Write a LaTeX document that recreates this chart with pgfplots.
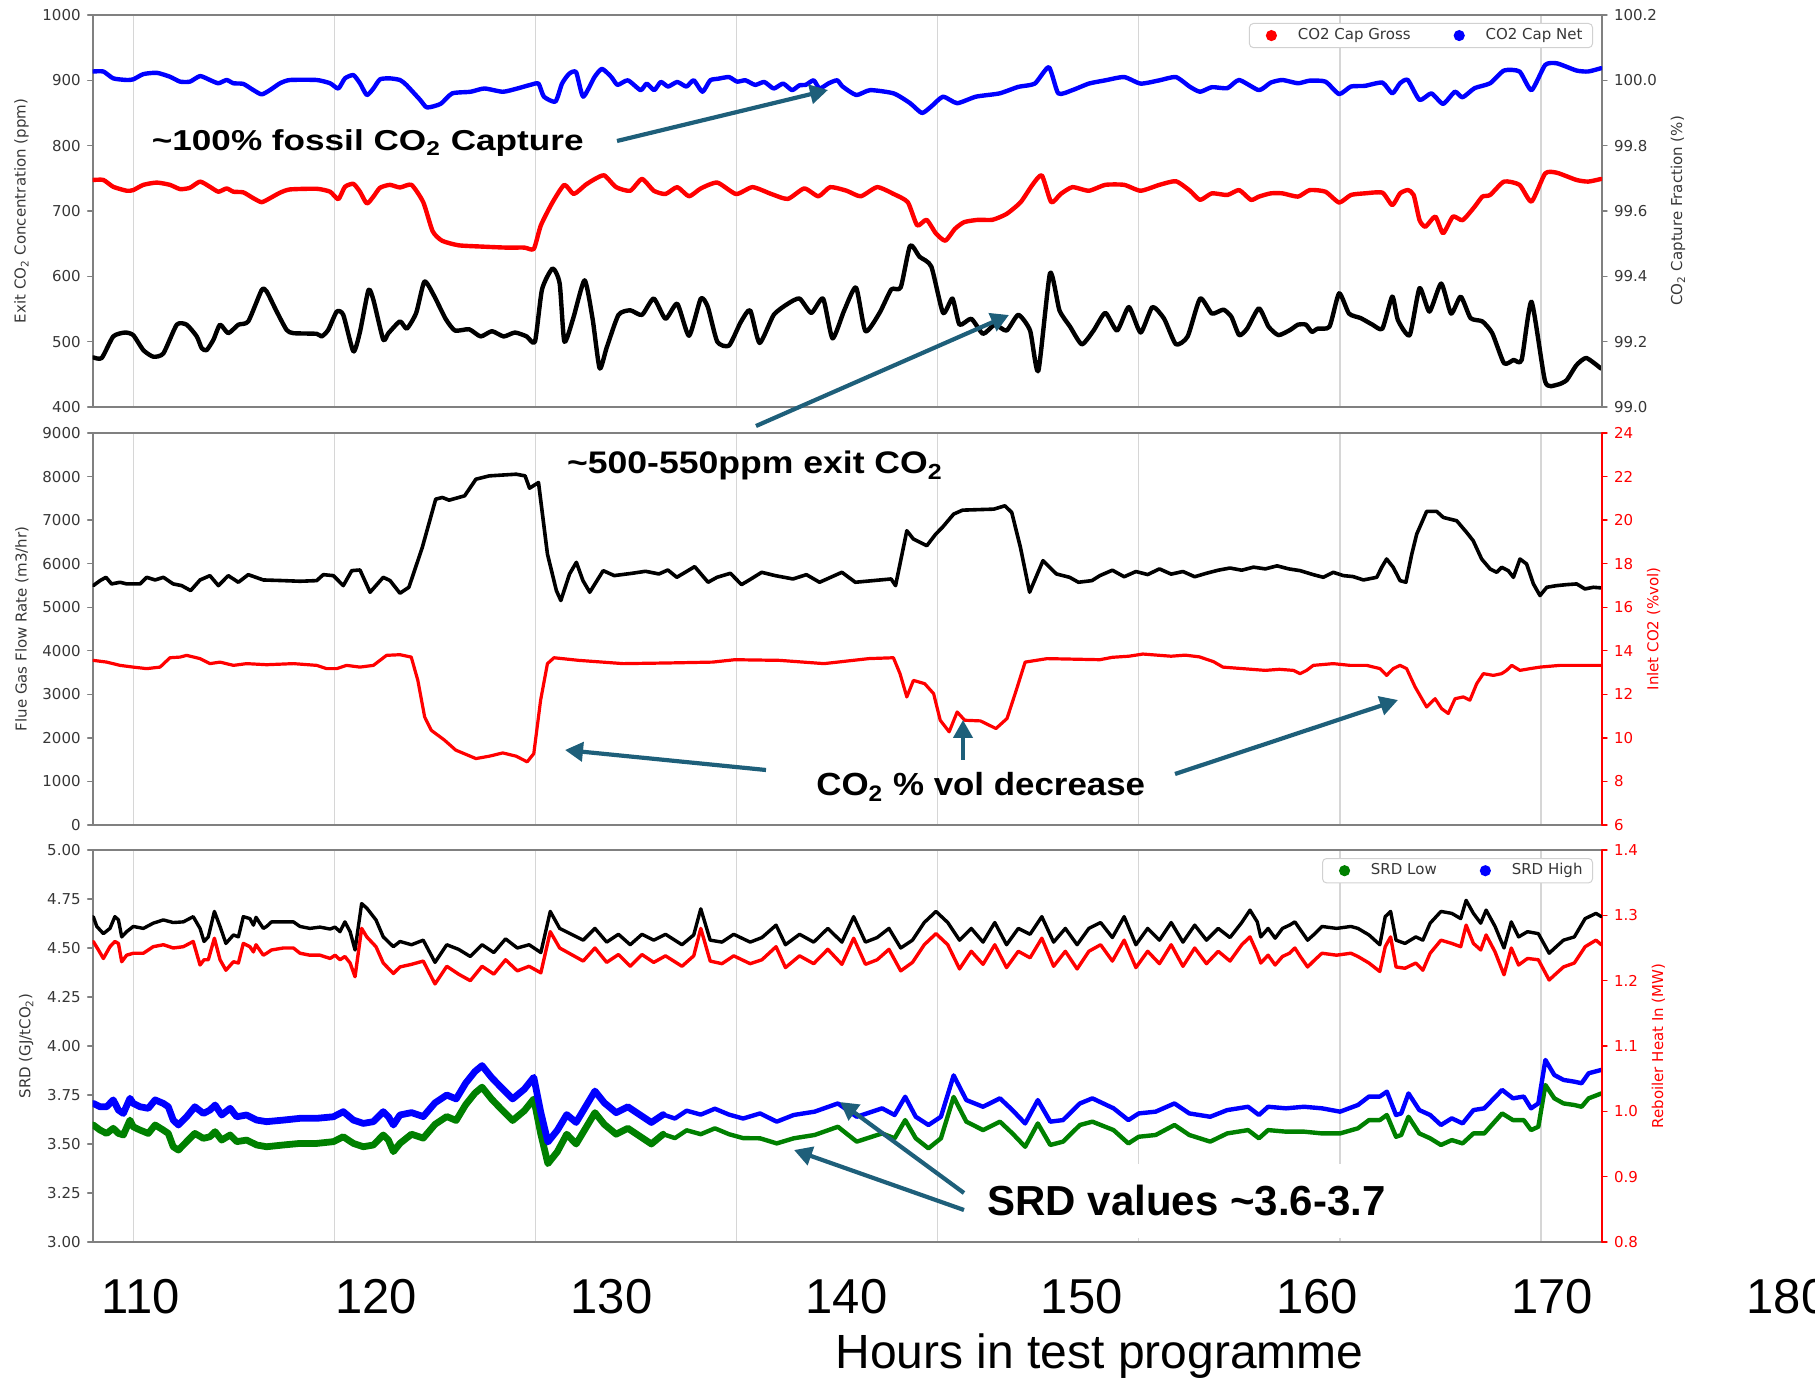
\documentclass[border=0pt]{standalone}
\usepackage{fontspec}
\setmainfont{DejaVu Sans}
\newfontfamily\lib{Liberation Sans}
\usepackage{graphicx}
\usepackage{pgfplots}
\pgfplotsset{compat=1.18}
\usetikzlibrary{arrows.meta}
\definecolor{axgray}{RGB}{128,128,128}
\definecolor{gridgray}{RGB}{214,214,214}
\definecolor{tlab}{RGB}{55,55,55}
\definecolor{mplgreen}{RGB}{0,128,0}
\definecolor{arrowc}{RGB}{30,95,122}
\newcommand{\fs}{\fontsize{7.5}{9}\selectfont}
\pgfplotsset{
 panel/.style={scale only axis, width=754.65pt, height=196pt,
   xmin=107.946, xmax=172.117, anchor=south west,
   xtick={109.673,118.223,126.773,135.323,143.873,152.423,160.973,169.523},
   xticklabels={}, xmajorticks=false,
   tick align=outside, major tick length=2.5pt,
   axis line style={axgray, line width=0.9pt},
   tick style={axgray, line width=0.7pt},
   ticklabel style={font=\fs, text=tlab},
   every axis label/.append style={font=\fs, text=tlab},
   /pgf/number format/assume math mode=true,
   /pgf/number format/1000 sep={},
   line join=round, line cap=round},
 leftax/.style={panel, xmajorgrids, major x grid style={gridgray, line width=0.6pt}, ytick pos=left},
 rightax/.style={panel, axis x line=none, axis y line*=right, ytick pos=right, y axis line style={-}},
 redright/.style={y axis line style={red, line width=0.9pt}, ytick style={red, line width=0.7pt},
   yticklabel style={text=red}, ylabel style={text=red}},
 mylegend/.style={legend columns=2,
   legend style={at={(1,1)}, anchor=north east, xshift=-4.5pt, yshift=-4pt,
     draw=black!18, line width=0.5pt, rounded corners=2pt, fill=white,
     font=\fs, text=tlab, inner xsep=3pt, inner ysep=0.5pt,
     /tikz/every odd column/.append style={column sep=8.2pt},
     /tikz/every even column/.append style={column sep=14.3pt}},
   legend image code/.code={\path[draw=none,fill=none] (0pt,-2pt) rectangle (11pt,2pt); \path[draw=none,fill=##1] (8pt,0pt) circle (2.8pt);}},
}
\begin{document}
\begin{tikzpicture}
% ================= PANEL 1 =================
\begin{axis}[leftax, at={(46.35pt,485.5pt)}, ymin=400, ymax=1000, ytick={400,500,...,1000},
  ylabel={Exit CO\textsubscript{2} Concentration (ppm)}]
\addplot[black, line width=2.2pt, smooth, tension=0.35] coordinates {(107.97,476)(108.33,475)(108.82,508)(109.32,514)(109.67,510)(110.10,487)(110.52,477)(110.95,482)(111.52,526)(111.94,526)(112.37,508)(112.58,490)(112.79,487)(113.08,503)(113.36,526)(113.71,513)(114.14,526)(114.56,531)(115.13,579)(115.34,577)(115.77,546)(116.19,518)(116.48,513)(117.47,512)(117.68,508)(117.96,518)(118.32,546)(118.60,541)(119.03,485)(119.31,515)(119.67,579)(119.88,564)(120.30,503)(120.52,513)(121.01,531)(121.3,520)(121.7,544)(122.05,592)(122.45,571)(122.95,535)(123.35,517)(123.95,519)(124.44,508)(124.92,516)(125.42,508)(125.9,514)(126.4,508)(126.75,500)(127.05,580)(127.5,612)(127.8,589)(128.0,500)(128.37,535)(128.86,594)(129.2,535)(129.5,459)(129.8,491)(130.3,541)(130.8,548)(131.3,541)(131.8,566)(132.3,535)(132.8,558)(133.3,509)(133.8,566)(134.1,553)(134.5,500)(135.0,494)(135.5,530)(135.9,548)(136.3,498)(136.9,541)(137.5,558)(138.0,566)(138.5,544)(139.0,566)(139.4,505)(139.9,548)(140.4,583)(140.8,516)(141.4,544)(141.9,580)(142.3,583)(142.7,647)(143.1,630)(143.6,615)(144.1,544)(144.5,566)(144.8,526)(145.3,535)(145.8,512)(146.3,526)(146.8,517)(147.3,541)(147.8,517)(148.15,455)(148.65,605)(149.05,548)(149.5,523)(150.0,496)(150.5,517)(151.0,544)(151.5,517)(152.0,553)(152.5,514)(153.0,553)(153.5,535)(154.0,496)(154.5,508)(155.03,566)(155.53,543)(156.02,549)(156.36,538)(156.69,510)(157.03,520)(157.53,551)(157.94,523)(158.36,510)(158.86,518)(159.19,526)(159.53,526)(159.78,515)(160.03,520)(160.53,523)(160.94,574)(161.36,543)(161.86,536)(162.36,526)(162.78,520)(163.20,569)(163.44,533)(163.94,510)(164.36,582)(164.78,546)(165.28,589)(165.70,543)(166.11,569)(166.53,536)(167.03,531)(167.45,513)(167.95,467)(168.36,472)(168.70,472)(169.12,561)(169.70,439)(170.20,434)(170.61,441)(171.03,464)(171.45,475)(172.07,459)};
\end{axis}
\begin{axis}[rightax, mylegend, at={(46.35pt,485.5pt)}, ymin=99.0, ymax=100.2, ytick={99.0,99.2,...,100.2},
  yticklabel style={/pgf/number format/.cd, fixed, fixed zerofill, precision=1},
  ylabel={CO\textsubscript{2} Capture Fraction (\%)}]
\addplot[red, line width=2.2pt, smooth, tension=0.35, forget plot] coordinates {(107.97,99.695)(108.40,99.695)(108.82,99.674)(109.39,99.662)(109.67,99.664)(110.10,99.680)(110.67,99.687)(111.23,99.680)(111.66,99.667)(112.08,99.671)(112.51,99.690)(112.93,99.674)(113.29,99.659)(113.64,99.669)(113.93,99.659)(114.35,99.657)(114.78,99.639)(115.13,99.627)(115.48,99.639)(115.91,99.656)(116.33,99.666)(117.47,99.668)(118.04,99.659)(118.39,99.636)(118.67,99.674)(119.03,99.683)(119.31,99.659)(119.60,99.623)(119.88,99.644)(120.16,99.671)(120.58,99.680)(121.01,99.672)(121.5,99.680)(122.0,99.627)(122.4,99.538)(122.8,99.509)(123.5,99.495)(124.5,99.491)(125.5,99.488)(126.3,99.488)(126.7,99.484)(127.0,99.556)(127.5,99.627)(128.0,99.680)(128.4,99.652)(128.9,99.680)(129.3,99.698)(129.7,99.709)(130.2,99.673)(130.8,99.662)(131.3,99.698)(131.8,99.662)(132.3,99.652)(132.8,99.673)(133.3,99.645)(133.8,99.669)(134.5,99.687)(135.3,99.652)(136.0,99.673)(136.8,99.652)(137.5,99.637)(138.2,99.669)(138.8,99.645)(139.3,99.673)(140.0,99.662)(140.6,99.645)(141.3,99.673)(142.0,99.652)(142.6,99.627)(143.0,99.556)(143.4,99.573)(143.8,99.531)(144.2,99.509)(144.6,99.545)(145.0,99.566)(145.6,99.573)(146.2,99.573)(146.8,99.591)(147.4,99.627)(147.9,99.680)(148.3,99.709)(148.7,99.627)(149.1,99.652)(149.6,99.673)(150.3,99.662)(151.0,99.680)(151.8,99.680)(152.5,99.662)(153.3,99.680)(154.0,99.691)(154.6,99.662)(155.03,99.634)(155.53,99.654)(156.19,99.649)(156.69,99.664)(157.19,99.634)(157.53,99.644)(158.03,99.654)(158.53,99.654)(159.19,99.644)(159.69,99.664)(160.36,99.659)(160.94,99.626)(161.44,99.649)(162.03,99.654)(162.78,99.656)(163.20,99.618)(163.53,99.654)(163.86,99.664)(164.11,99.649)(164.36,99.572)(164.61,99.552)(165.03,99.583)(165.36,99.532)(165.78,99.583)(166.19,99.572)(166.70,99.613)(167.03,99.644)(167.36,99.649)(167.95,99.690)(168.61,99.680)(169.12,99.629)(169.70,99.715)(170.20,99.717)(171.03,99.695)(171.53,99.690)(172.07,99.698)};
\addplot[blue, line width=2.2pt, smooth, tension=0.35, forget plot] coordinates {(107.97,100.027)(108.40,100.027)(108.82,100.006)(109.39,100.001)(109.67,100.003)(110.10,100.019)(110.67,100.023)(111.23,100.011)(111.66,99.996)(112.08,99.996)(112.51,100.013)(112.93,100.001)(113.29,99.991)(113.64,100.001)(113.93,99.991)(114.35,99.989)(114.78,99.970)(115.13,99.957)(115.48,99.970)(115.91,99.991)(116.33,100.001)(117.47,100.001)(118.04,99.991)(118.39,99.975)(118.67,100.006)(119.03,100.016)(119.31,99.991)(119.60,99.955)(119.88,99.975)(120.16,100.003)(120.58,100.006)(121.01,100.001)(121.28,99.986)(121.87,99.940)(122.16,99.917)(122.74,99.928)(123.23,99.960)(124.01,99.965)(124.60,99.975)(125.38,99.965)(126.0,99.975)(126.55,99.986)(126.9,99.99)(127.13,99.950)(127.62,99.935)(127.9,99.99)(128.2,100.02)(128.5,100.025)(128.80,99.950)(129.28,100.01)(129.6,100.035)(130.0,100.01)(130.26,99.986)(130.7,100.00)(131.24,99.970)(131.5,99.99)(131.82,99.970)(132.1,99.995)(132.41,99.981)(132.8,99.995)(133.19,99.981)(133.5,100.0)(133.87,99.965)(134.2,100.0)(134.55,100.005)(135.0,100.01)(135.34,99.996)(135.7,100.0)(136.11,99.986)(136.5,99.995)(136.90,99.975)(137.3,99.99)(137.68,99.970)(138.0,99.985)(138.26,99.986)(138.6,100.0)(138.85,99.975)(139.24,99.991)(139.6,100.0)(139.83,99.981)(140.41,99.955)(141.0,99.97)(142.0,99.96)(142.7,99.93)(143.2,99.90)(143.6,99.92)(144.1,99.95)(144.7,99.93)(145.5,99.95)(146.5,99.96)(147.3,99.98)(148.0,99.99)(148.6,100.04)(149.0,99.96)(149.6,99.97)(150.3,99.99)(151.0,100.00)(151.8,100.01)(152.5,99.99)(153.3,100.00)(154.0,100.01)(154.6,99.98)(155.03,99.965)(155.53,99.979)(156.19,99.976)(156.69,100.001)(157.53,99.970)(158.03,99.993)(158.53,100.001)(159.19,99.991)(159.69,99.999)(160.36,99.996)(160.94,99.958)(161.44,99.981)(162.03,99.983)(162.78,99.993)(163.20,99.960)(163.53,99.991)(163.86,100.001)(164.36,99.940)(164.86,99.960)(165.36,99.928)(165.86,99.965)(166.19,99.948)(166.70,99.976)(167.36,99.991)(167.95,100.030)(168.61,100.027)(169.12,99.970)(169.70,100.047)(170.20,100.052)(171.03,100.030)(171.53,100.027)(172.07,100.037)};
\addlegendimage{red}
\addlegendentry{CO2 Cap Gross}
\addlegendimage{blue}
\addlegendentry{CO2 Cap Net}
\end{axis}
% ================= PANEL 2 =================
\begin{axis}[leftax, at={(46.35pt,276.5pt)}, ymin=0, ymax=9000, ytick={0,1000,...,9000},
  ylabel={Flue Gas Flow Rate (m3/hr)}]
\addplot[black, line width=1.8pt] coordinates {(107.97,5496)(108.26,5611)(108.51,5687)(108.75,5535)(109.11,5573)(109.39,5535)(109.96,5535)(110.24,5687)(110.60,5626)(110.95,5687)(111.37,5535)(111.73,5496)(112.11,5382)(112.51,5626)(112.93,5725)(113.29,5496)(113.71,5725)(114.14,5573)(114.56,5748)(115.20,5626)(116.05,5611)(116.76,5596)(117.47,5611)(117.75,5748)(118.18,5725)(118.60,5496)(118.96,5840)(119.31,5855)(119.74,5344)(120.30,5687)(120.59,5611)(121.01,5321)(121.39,5458)(121.96,6374)(122.53,7481)(122.81,7520)(123.10,7458)(123.76,7558)(124.24,7939)(124.81,8016)(125.95,8054)(126.33,8016)(126.52,7733)(126.90,7863)(127.28,6222)(127.66,5382)(127.85,5153)(128.22,5764)(128.51,6031)(128.79,5611)(129.08,5344)(129.65,5840)(130.12,5726)(130.88,5779)(131.45,5825)(132.02,5764)(132.40,5855)(132.78,5687)(133.54,5932)(134.11,5573)(134.49,5687)(135.06,5779)(135.53,5519)(135.82,5611)(136.39,5802)(136.96,5726)(137.72,5649)(138.29,5748)(138.85,5573)(139.80,5802)(140.37,5573)(141.13,5611)(141.89,5649)(142.08,5496)(142.56,6756)(142.84,6565)(143.41,6413)(143.79,6680)(144.07,6832)(144.55,7138)(144.93,7229)(146.26,7252)(146.73,7329)(147.02,7176)(147.39,6374)(147.78,5344)(148.35,6069)(148.92,5764)(149.48,5687)(149.86,5573)(150.43,5611)(150.77,5726)(151.3,5850)(151.8,5700)(152.3,5820)(152.8,5750)(153.3,5880)(153.8,5760)(154.3,5820)(154.8,5700)(155.3,5780)(155.8,5850)(156.3,5900)(156.8,5850)(157.3,5920)(157.8,5880)(158.3,5950)(158.8,5880)(159.28,5840)(159.84,5748)(160.27,5687)(160.69,5802)(161.12,5726)(161.54,5703)(161.97,5626)(162.54,5687)(162.75,5916)(162.96,6107)(163.24,5916)(163.53,5611)(163.78,5573)(164.03,6222)(164.24,6680)(164.66,7199)(165.09,7199)(165.37,7061)(165.94,6985)(166.36,6718)(166.64,6527)(167.00,6107)(167.36,5878)(167.64,5802)(167.85,5916)(168.13,5840)(168.35,5687)(168.63,6107)(168.91,5993)(169.20,5535)(169.48,5268)(169.77,5458)(170.19,5496)(170.62,5519)(171.04,5535)(171.39,5420)(171.75,5458)(172.10,5443)};
\end{axis}
\begin{axis}[rightax, redright, at={(46.35pt,276.5pt)}, ymin=6, ymax=24, ytick={6,8,...,24},
  ylabel={Inlet CO2 (\%vol)}]
\addplot[red, line width=1.6pt] coordinates {(107.97,13.56)(108.54,13.48)(109.11,13.33)(109.67,13.25)(110.24,13.18)(110.81,13.25)(111.23,13.68)(111.66,13.71)(111.94,13.79)(112.51,13.64)(112.93,13.41)(113.36,13.48)(113.93,13.33)(114.49,13.41)(115.34,13.36)(116.48,13.41)(117.47,13.33)(117.89,13.18)(118.32,13.18)(118.74,13.33)(119.31,13.25)(119.88,13.33)(120.44,13.79)(121.01,13.82)(121.49,13.71)(121.77,12.64)(122.06,10.96)(122.34,10.35)(122.91,9.89)(123.38,9.44)(124.24,9.05)(124.81,9.16)(125.38,9.31)(125.95,9.16)(126.42,8.90)(126.70,9.28)(126.99,11.73)(127.28,13.41)(127.56,13.68)(128.61,13.56)(130.50,13.41)(132.40,13.44)(134.30,13.48)(135.25,13.59)(137.15,13.56)(139.04,13.41)(140.94,13.64)(141.99,13.68)(142.27,12.95)(142.56,11.88)(142.84,12.64)(143.32,12.49)(143.70,12.03)(143.98,10.81)(144.36,10.28)(144.70,11.19)(145.02,10.81)(145.69,10.78)(146.35,10.43)(146.82,10.89)(147.21,12.18)(147.59,13.48)(148.53,13.64)(150.77,13.59)(151.3,13.7)(152.0,13.75)(152.6,13.85)(153.2,13.8)(153.8,13.75)(154.4,13.8)(155.0,13.72)(155.6,13.5)(156.0,13.25)(156.6,13.2)(157.2,13.15)(157.8,13.1)(158.4,13.15)(159.0,13.1)(159.28,12.95)(159.56,13.10)(159.84,13.33)(160.69,13.41)(161.40,13.33)(162.11,13.33)(162.68,13.18)(162.96,12.87)(163.24,13.18)(163.53,13.33)(163.81,13.18)(164.17,12.34)(164.66,11.42)(165.02,11.80)(165.30,11.34)(165.58,11.12)(165.87,11.80)(166.22,11.88)(166.50,11.73)(166.79,12.49)(167.07,12.95)(167.50,12.87)(167.85,12.95)(168.06,13.10)(168.28,13.33)(168.63,13.10)(169.06,13.18)(169.48,13.25)(170.33,13.33)(172.10,13.33)};
\end{axis}
% ================= PANEL 3 =================
\begin{axis}[leftax, at={(46.35pt,68pt)}, ymin=3, ymax=5, ytick={3,3.25,...,5},
  yticklabel style={/pgf/number format/.cd, fixed, fixed zerofill, precision=2},
  ylabel={SRD (GJ/tCO\textsubscript{2})}]
\addplot[mplgreen, line width=3.4pt] coordinates {(107.97,3.597)(108.26,3.571)(108.54,3.554)(108.82,3.580)(109.04,3.554)(109.25,3.546)(109.53,3.622)(109.67,3.588)(109.96,3.571)(110.31,3.554)(110.60,3.597)(110.95,3.571)(111.16,3.554)(111.37,3.486)(111.59,3.469)(111.94,3.512)(112.29,3.554)(112.65,3.529)(112.93,3.537)(113.15,3.563)(113.43,3.520)(113.79,3.546)(114.07,3.512)(114.49,3.520)(114.92,3.495)(115.34,3.486)(116.05,3.495)(116.76,3.503)(117.47,3.503)(118.18,3.512)(118.60,3.537)(119.03,3.503)(119.45,3.486)(119.88,3.495)(120.30,3.546)(120.52,3.520)(120.73,3.461)(121.01,3.503)(121.5,3.55)(122.0,3.53)(122.5,3.60)(123.0,3.64)(123.4,3.62)(123.8,3.70)(124.2,3.76)(124.5,3.79)(124.9,3.73)(125.3,3.68)(125.8,3.62)(126.3,3.67)(126.7,3.73)(127.0,3.55)(127.3,3.40)(127.7,3.46)(128.1,3.55)(128.5,3.50)(128.9,3.58)(129.3,3.66)(129.7,3.60)(130.2,3.55)(130.7,3.58)(131.2,3.54)(131.7,3.50)(132.2,3.55)};
\addplot[mplgreen, line width=2.2pt] coordinates {(132.2,3.55)(132.7,3.53)(133.2,3.57)(133.8,3.55)(134.4,3.58)(135.0,3.55)(135.6,3.53)(136.32,3.529)(137.03,3.503)(137.75,3.529)(138.64,3.546)(139.63,3.588)(140.43,3.512)(141.51,3.554)(142.04,3.529)(142.49,3.622)(142.94,3.529)(143.48,3.478)(144.01,3.529)(144.55,3.74)(145.09,3.614)(145.80,3.571)(146.52,3.614)(147.05,3.554)(147.59,3.486)(148.13,3.605)(148.66,3.495)(149.20,3.512)(149.92,3.597)(150.45,3.614)(151.35,3.571)(151.98,3.503)(152.42,3.537)(153.14,3.546)(153.94,3.597)(154.57,3.546)(155.46,3.512)(156.18,3.554)(157.07,3.571)(157.53,3.529)(157.92,3.571)(158.68,3.563)(159.45,3.563)(160.21,3.554)(160.98,3.554)(161.74,3.580)(162.21,3.622)(162.67,3.622)(162.97,3.648)(163.36,3.537)(163.58,3.546)(163.89,3.639)(164.35,3.554)(164.81,3.529)(165.27,3.495)(165.73,3.520)(166.19,3.503)(166.65,3.554)(167.11,3.554)(167.87,3.656)(168.33,3.622)(168.79,3.622)(169.10,3.571)(169.41,3.588)(169.71,3.801)(170.09,3.733)(170.48,3.707)(170.94,3.699)(171.25,3.690)(171.55,3.733)(172.09,3.758)};
\addplot[blue, line width=3.4pt] coordinates {(107.97,3.707)(108.26,3.690)(108.54,3.690)(108.82,3.725)(109.04,3.673)(109.25,3.656)(109.53,3.733)(109.67,3.707)(109.96,3.690)(110.31,3.682)(110.60,3.725)(110.95,3.707)(111.16,3.690)(111.37,3.622)(111.59,3.597)(111.94,3.639)(112.29,3.690)(112.65,3.656)(112.93,3.673)(113.15,3.699)(113.43,3.648)(113.79,3.682)(114.07,3.639)(114.49,3.648)(114.92,3.622)(115.34,3.614)(116.05,3.622)(116.76,3.631)(117.47,3.631)(118.18,3.639)(118.60,3.665)(119.03,3.622)(119.45,3.605)(119.88,3.614)(120.30,3.665)(120.52,3.639)(120.73,3.597)(121.01,3.648)(121.5,3.66)(122.0,3.64)(122.5,3.71)(123.0,3.75)(123.4,3.73)(123.8,3.81)(124.2,3.87)(124.5,3.90)(124.9,3.84)(125.3,3.79)(125.8,3.73)(126.3,3.78)(126.7,3.84)(127.0,3.66)(127.3,3.51)(127.7,3.57)(128.1,3.65)(128.5,3.61)(128.9,3.69)(129.3,3.77)(129.7,3.71)(130.2,3.66)(130.7,3.69)(131.2,3.65)(131.7,3.61)(132.2,3.65)};
\addplot[blue, line width=2.2pt] coordinates {(132.2,3.65)(132.7,3.63)(133.2,3.67)(133.8,3.65)(134.4,3.68)(135.0,3.65)(135.6,3.63)(136.32,3.656)(137.03,3.614)(137.75,3.648)(138.64,3.665)(139.63,3.707)(140.43,3.639)(141.51,3.682)(142.04,3.648)(142.49,3.741)(142.94,3.639)(143.48,3.597)(144.01,3.639)(144.55,3.85)(145.09,3.724)(145.80,3.690)(146.52,3.733)(147.05,3.673)(147.59,3.605)(148.13,3.724)(148.66,3.614)(149.20,3.622)(149.92,3.707)(150.45,3.733)(151.35,3.682)(151.98,3.622)(152.42,3.656)(153.14,3.665)(153.94,3.707)(154.57,3.656)(155.46,3.639)(156.18,3.673)(157.07,3.690)(157.53,3.648)(157.92,3.690)(158.68,3.682)(159.45,3.690)(160.21,3.682)(160.98,3.665)(161.74,3.699)(162.21,3.742)(162.67,3.742)(162.97,3.767)(163.36,3.648)(163.58,3.656)(163.89,3.758)(164.35,3.673)(164.81,3.648)(165.27,3.597)(165.73,3.631)(166.19,3.605)(166.65,3.673)(167.11,3.682)(167.87,3.776)(168.33,3.733)(168.79,3.742)(169.10,3.682)(169.41,3.707)(169.71,3.929)(170.09,3.852)(170.48,3.827)(170.94,3.818)(171.25,3.810)(171.55,3.861)(172.09,3.878)};
\end{axis}
\begin{axis}[rightax, redright, mylegend, at={(46.35pt,68pt)}, ymin=0.8, ymax=1.4, ytick={0.8,0.9,...,1.4},
  yticklabel style={/pgf/number format/.cd, fixed, fixed zerofill, precision=1},
  ylabel={Reboiler Heat In (MW)}]
\addplot[black, line width=1.7pt, forget plot] coordinates {(107.97,1.298)(108.12,1.283)(108.40,1.272)(108.68,1.280)(108.89,1.298)(109.04,1.293)(109.18,1.267)(109.39,1.275)(109.67,1.283)(110.10,1.280)(110.52,1.288)(110.95,1.293)(111.37,1.289)(111.80,1.290)(112.22,1.298)(112.51,1.280)(112.68,1.260)(112.86,1.267)(113.12,1.306)(113.36,1.283)(113.61,1.257)(113.93,1.270)(114.14,1.267)(114.35,1.298)(114.63,1.295)(114.78,1.285)(114.89,1.297)(115.20,1.280)(115.34,1.283)(115.55,1.290)(116.05,1.290)(116.48,1.290)(116.76,1.283)(117.18,1.280)(117.61,1.282)(118.04,1.279)(118.25,1.282)(118.46,1.275)(118.67,1.290)(118.89,1.275)(119.10,1.247)(119.38,1.318)(119.60,1.311)(119.99,1.293)(120.30,1.267)(120.73,1.252)(121.01,1.260)(121.5,1.255)(122.0,1.262)(122.5,1.228)(123.0,1.255)(123.5,1.248)(124.0,1.237)(124.5,1.255)(125.0,1.243)(125.5,1.264)(126.0,1.250)(126.5,1.255)(127.0,1.243)(127.4,1.306)(127.8,1.280)(128.3,1.271)(128.8,1.262)(129.3,1.280)(129.8,1.259)(130.3,1.271)(130.8,1.255)(131.3,1.271)(131.8,1.262)(132.3,1.271)(133.0,1.255)(133.5,1.270)(133.8,1.310)(134.2,1.262)(134.7,1.259)(135.2,1.271)(135.9,1.259)(136.4,1.266)(137.0,1.285)(137.4,1.255)(138.0,1.271)(138.6,1.259)(139.2,1.280)(139.8,1.259)(140.3,1.298)(140.8,1.259)(141.3,1.266)(141.8,1.280)(142.3,1.250)(142.8,1.262)(143.3,1.289)(143.8,1.306)(144.3,1.289)(144.8,1.262)(145.3,1.280)(145.8,1.259)(146.3,1.289)(146.8,1.255)(147.3,1.280)(147.8,1.271)(148.3,1.298)(148.8,1.259)(149.3,1.280)(149.8,1.255)(150.3,1.280)(150.8,1.289)(151.3,1.266)(151.8,1.298)(152.3,1.255)(152.8,1.280)(153.3,1.262)(153.8,1.289)(154.3,1.259)(154.8,1.285)(155.3,1.262)(155.8,1.280)(156.3,1.266)(156.8,1.289)(157.15,1.308)(157.46,1.290)(157.61,1.267)(157.92,1.280)(158.22,1.265)(158.53,1.280)(158.83,1.285)(159.06,1.290)(159.29,1.278)(159.60,1.262)(159.91,1.272)(160.21,1.283)(160.83,1.280)(161.44,1.283)(161.74,1.280)(162.21,1.270)(162.67,1.255)(162.90,1.298)(163.13,1.306)(163.36,1.262)(163.74,1.257)(164.20,1.267)(164.50,1.262)(164.81,1.288)(165.27,1.306)(165.73,1.303)(166.11,1.295)(166.34,1.323)(166.65,1.303)(166.96,1.288)(167.19,1.308)(167.57,1.283)(167.95,1.250)(168.26,1.290)(168.57,1.267)(168.95,1.275)(169.41,1.272)(169.87,1.242)(170.17,1.252)(170.48,1.262)(170.94,1.267)(171.40,1.295)(171.86,1.303)(172.09,1.298)};
\addplot[red, line width=1.7pt, forget plot] coordinates {(107.97,1.260)(108.19,1.247)(108.40,1.234)(108.68,1.252)(108.89,1.260)(109.04,1.257)(109.18,1.229)(109.39,1.239)(109.67,1.242)(110.10,1.242)(110.52,1.252)(110.95,1.255)(111.37,1.250)(111.80,1.252)(112.22,1.260)(112.51,1.224)(112.68,1.232)(112.86,1.232)(113.12,1.265)(113.36,1.232)(113.61,1.216)(113.93,1.229)(114.14,1.227)(114.35,1.257)(114.63,1.252)(114.78,1.244)(114.89,1.255)(115.20,1.239)(115.34,1.242)(115.55,1.247)(116.05,1.250)(116.48,1.250)(116.76,1.242)(117.18,1.239)(117.61,1.239)(118.04,1.234)(118.25,1.239)(118.46,1.232)(118.67,1.237)(118.89,1.227)(119.10,1.206)(119.38,1.280)(119.60,1.267)(119.99,1.252)(120.30,1.227)(120.73,1.211)(121.01,1.221)(121.5,1.225)(122.0,1.230)(122.5,1.195)(123.0,1.222)(123.5,1.210)(124.0,1.200)(124.5,1.222)(125.0,1.210)(125.5,1.232)(126.0,1.215)(126.5,1.222)(127.0,1.212)(127.4,1.275)(127.8,1.250)(128.3,1.240)(128.8,1.230)(129.3,1.250)(129.8,1.228)(130.3,1.240)(130.8,1.222)(131.3,1.240)(131.8,1.228)(132.3,1.238)(133.0,1.222)(133.5,1.238)(133.8,1.280)(134.2,1.230)(134.7,1.226)(135.2,1.238)(135.9,1.226)(136.4,1.232)(137.0,1.252)(137.4,1.220)(138.0,1.238)(138.6,1.226)(139.2,1.248)(139.8,1.225)(140.3,1.265)(140.8,1.225)(141.3,1.232)(141.8,1.248)(142.3,1.215)(142.8,1.228)(143.3,1.255)(143.8,1.272)(144.3,1.255)(144.8,1.218)(145.3,1.245)(145.8,1.225)(146.3,1.255)(146.8,1.220)(147.3,1.245)(147.8,1.235)(148.3,1.265)(148.8,1.222)(149.3,1.245)(149.8,1.218)(150.3,1.245)(150.8,1.255)(151.3,1.230)(151.8,1.262)(152.3,1.220)(152.8,1.245)(153.3,1.226)(153.8,1.255)(154.3,1.222)(154.8,1.250)(155.3,1.226)(155.8,1.245)(156.3,1.230)(156.8,1.255)(157.15,1.267)(157.46,1.242)(157.61,1.227)(157.92,1.239)(158.22,1.224)(158.53,1.237)(158.83,1.242)(159.06,1.250)(159.29,1.237)(159.60,1.221)(159.91,1.232)(160.21,1.242)(160.83,1.239)(161.44,1.242)(161.74,1.237)(162.21,1.227)(162.67,1.214)(162.90,1.252)(163.13,1.267)(163.36,1.221)(163.74,1.219)(164.20,1.227)(164.50,1.216)(164.81,1.242)(165.27,1.262)(165.73,1.257)(166.11,1.252)(166.34,1.285)(166.65,1.257)(166.96,1.247)(167.19,1.270)(167.57,1.244)(167.95,1.209)(168.26,1.250)(168.57,1.224)(168.95,1.234)(169.41,1.232)(169.87,1.201)(170.17,1.211)(170.48,1.221)(170.94,1.227)(171.40,1.252)(171.86,1.262)(172.09,1.255)};
\addlegendimage{mplgreen}
\addlegendentry{SRD Low}
\addlegendimage{blue}
\addlegendentry{SRD High}
\end{axis}
% ================= bottom hour labels =================
\begin{axis}[scale only axis, width=870.88pt, height=10pt, at={(46.35pt,32.5pt)}, anchor=south west,
  xmin=107.946, xmax=182, ymin=0, ymax=1, axis line style={draw=none}, ymajorticks=false,
  xtick={110,120,...,180}, xtick style={draw=none},
  xticklabel style={anchor=base, inner sep=0pt, font=\lib\fontsize{24.5}{28}\selectfont},
  /pgf/number format/assume math mode=true]
\end{axis}
\node[anchor=base, inner sep=0pt] at (549.75pt,5pt) {\lib\fontsize{24}{28}\selectfont Hours in test programme};
% ================= annotations =================
\fill[white] (482pt,70pt) rectangle (702pt,107pt);
\node[anchor=base west, inner sep=0pt] at (75.75pt,613.6pt) {\scalebox{1.22}[1]{\lib\bfseries\fontsize{14.4}{16}\selectfont \textasciitilde100\% fossil CO\textsubscript{2} Capture}};
\node[anchor=base west, inner sep=0pt] at (283.35pt,452pt) {\scalebox{1.14}[1]{\lib\bfseries\fontsize{15.6}{18}\selectfont \textasciitilde500-550ppm exit CO\textsubscript{2}}};
\node[anchor=base west, inner sep=0pt] at (408pt,291pt) {\scalebox{1.09}[1]{\lib\bfseries\fontsize{16}{18}\selectfont CO\textsubscript{2} \% vol decrease}};
\node[anchor=base west, inner sep=0pt] at (493.5pt,81.5pt) {\lib\bfseries\fontsize{21}{24}\selectfont SRD values \textasciitilde3.6-3.7};
\begin{scope}[arrowc, line width=2.1pt, -{Triangle[length=9pt,width=9.5pt]}]
\draw (308.5pt,618.5pt) -- (414pt,644pt);
\draw (378pt,476pt) -- (504.5pt,531.5pt);
\draw (383pt,304pt) -- (282.5pt,314pt);
\draw (481.5pt,309pt) -- (481.5pt,329pt);
\draw (587.5pt,302pt) -- (699pt,339pt);
\draw (482pt,92.5pt) -- (420pt,138pt);
\draw (482pt,84pt) -- (397pt,114pt);
\end{scope}
\pgfresetboundingbox
\useasboundingbox (0pt,0pt) rectangle (907.5pt,689pt);
\end{tikzpicture}
\end{document}
